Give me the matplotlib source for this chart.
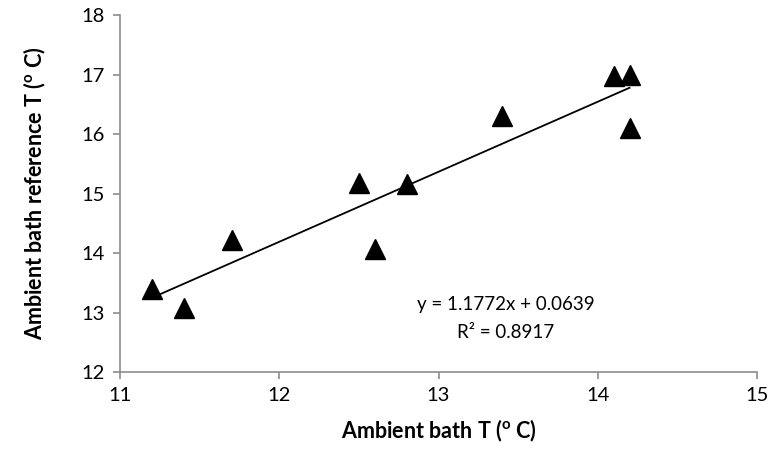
import matplotlib.pyplot as plt
import numpy as np

plt.rcParams['font.family'] = ['Lato', 'DejaVu Sans']
plt.rcParams['mathtext.fontset'] = 'custom'
plt.rcParams['mathtext.bf'] = 'Lato:bold'
plt.rcParams['mathtext.rm'] = 'Lato'

# data
bath_t = [11.2, 11.4, 11.7, 12.5, 12.6, 12.8, 13.4, 14.1, 14.2, 14.2]
ref_t = [13.4, 13.07, 14.22, 15.18, 14.07, 15.16, 16.31, 16.97, 17.0, 16.1]

# linear trendline shown on the chart
slope = 1.1772
intercept = 0.0639
r2 = 0.8917

fig = plt.figure(figsize=(7.7, 4.61), dpi=100)
ax = fig.add_axes([0.156, 0.193, 0.827, 0.774])

ax.plot(bath_t, ref_t, linestyle='none', marker='^', markersize=14,
        color='black', zorder=3)

xs = np.array([min(bath_t), max(bath_t)])
ax.plot(xs, slope * xs + intercept, color='black', linewidth=1.3, zorder=2)

ax.text(13.42, 13.13, 'y = %.4fx + %.4f' % (slope, intercept),
        ha='center', va='center', fontsize=13.5)
ax.text(13.42, 12.66, 'R² = %.4f' % r2, ha='center', va='center', fontsize=13.5)

ax.set_xlim(11, 15)
ax.set_ylim(12, 18)
ax.set_xticks([11, 12, 13, 14, 15])
ax.set_yticks([12, 13, 14, 15, 16, 17, 18])

for s in ['top', 'right']:
    ax.spines[s].set_visible(False)
for s in ['left', 'bottom']:
    ax.spines[s].set_color('#8c8c8c')
    ax.spines[s].set_linewidth(1.2)
ax.tick_params(colors='#8c8c8c', labelcolor='black', labelsize=14.5,
               length=5, width=1.2, pad=6)

ax.set_xlabel(r'Ambient bath T ($\mathbf{^{o}}$ C)', fontsize=15.5,
              fontweight='bold', labelpad=10)
ax.set_ylabel(r'Ambient bath reference T ($\mathbf{^{o}}$ C)', fontsize=15.5,
              fontweight='bold', labelpad=24)

plt.savefig('out.png', dpi=100)
